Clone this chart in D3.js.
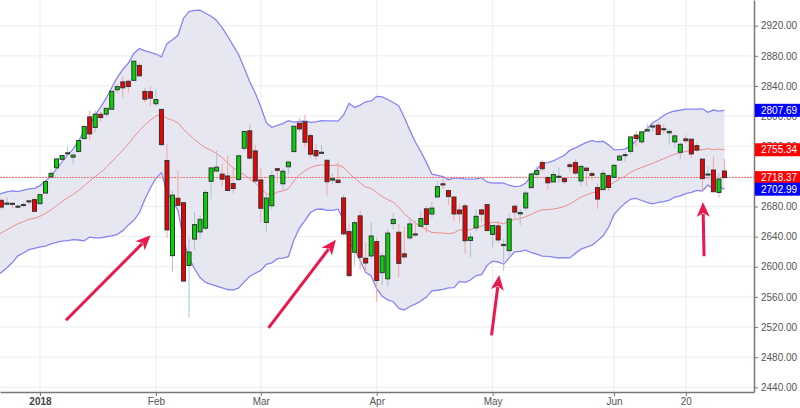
<!DOCTYPE html>
<html>
<head>
<script src="https://d3js.org/d3.v7.min.js"></script>
<style>
  body { margin: 0; background: #fff; font-family: 'Liberation Sans', Arial, sans-serif; }
  .axis text { font-size: 10px; fill: #555; }
  .axis path, .axis line { stroke: #777; }
  .axis path { stroke-width: 1.5px; }
  .grid line { stroke: #ececf2; stroke-width: 1px; }
</style>
</head>
<body>
<script>
// S&P 500 daily candles, Dec 19 2017 - Jun 29 2018
const dates = [
  "2017-12-19","2017-12-20","2017-12-21","2017-12-22","2017-12-26","2017-12-27","2017-12-28","2017-12-29",
  "2018-01-02","2018-01-03","2018-01-04","2018-01-05","2018-01-08","2018-01-09","2018-01-10","2018-01-11","2018-01-12","2018-01-16","2018-01-17","2018-01-18","2018-01-19","2018-01-22","2018-01-23","2018-01-24","2018-01-25","2018-01-26","2018-01-29","2018-01-30","2018-01-31",
  "2018-02-01","2018-02-02","2018-02-05","2018-02-06","2018-02-07","2018-02-08","2018-02-09","2018-02-12","2018-02-13","2018-02-14","2018-02-15","2018-02-16","2018-02-20","2018-02-21","2018-02-22","2018-02-23","2018-02-26","2018-02-27","2018-02-28",
  "2018-03-01","2018-03-02","2018-03-05","2018-03-06","2018-03-07","2018-03-08","2018-03-09","2018-03-12","2018-03-13","2018-03-14","2018-03-15","2018-03-16","2018-03-19","2018-03-20","2018-03-21","2018-03-22","2018-03-23","2018-03-26","2018-03-27","2018-03-28","2018-03-29",
  "2018-04-02","2018-04-03","2018-04-04","2018-04-05","2018-04-06","2018-04-09","2018-04-10","2018-04-11","2018-04-12","2018-04-13","2018-04-16","2018-04-17","2018-04-18","2018-04-19","2018-04-20","2018-04-23","2018-04-24","2018-04-25","2018-04-26","2018-04-27","2018-04-30",
  "2018-05-01","2018-05-02","2018-05-03","2018-05-04","2018-05-07","2018-05-08","2018-05-09","2018-05-10","2018-05-11","2018-05-14","2018-05-15","2018-05-16","2018-05-17","2018-05-18","2018-05-21","2018-05-22","2018-05-23","2018-05-24","2018-05-25","2018-05-29","2018-05-30","2018-05-31",
  "2018-06-01","2018-06-04","2018-06-05","2018-06-06","2018-06-07","2018-06-08","2018-06-11","2018-06-12","2018-06-13","2018-06-14","2018-06-15","2018-06-18","2018-06-19","2018-06-20","2018-06-21","2018-06-22","2018-06-25","2018-06-26","2018-06-27","2018-06-28","2018-06-29"
];

const open = [
  2694.96, 2688.18, 2683.02, 2684.22, 2679.09, 2682.10, 2686.10, 2689.15,
  2683.73, 2697.85, 2719.31, 2731.33, 2742.67, 2751.15, 2745.55, 2752.97, 2770.18, 2798.96, 2784.99, 2802.40, 2802.60, 2809.16, 2835.05, 2845.42, 2846.24, 2847.48, 2867.23, 2832.74, 2832.41,
  2816.45, 2808.92, 2741.06, 2614.78, 2690.95, 2685.01, 2601.78, 2636.75, 2646.27, 2651.21, 2713.46, 2727.14, 2722.99, 2720.53, 2710.42, 2715.80, 2757.37, 2780.45, 2753.78,
  2715.22, 2658.89, 2681.06, 2730.18, 2710.18, 2732.75, 2752.91, 2790.54, 2792.31, 2774.06, 2754.27, 2750.57, 2741.38, 2715.05, 2714.99, 2691.36, 2646.71, 2619.35, 2667.57, 2611.30, 2614.41,
  2633.45, 2592.17, 2584.04, 2657.36, 2645.82, 2617.18, 2638.41, 2643.56, 2653.83, 2676.90, 2670.10, 2692.74, 2710.11, 2701.16, 2692.56, 2675.40, 2680.80, 2634.92, 2651.65, 2675.47, 2682.51,
  2642.96, 2654.24, 2628.08, 2621.45, 2680.34, 2670.26, 2678.12, 2705.02, 2722.70, 2738.47, 2718.59, 2712.62, 2719.71, 2717.35, 2735.39, 2738.34, 2713.98, 2730.94, 2723.60, 2705.11, 2702.43, 2720.98,
  2718.70, 2741.67, 2748.46, 2753.25, 2774.84, 2765.84, 2780.18, 2785.60, 2787.94, 2783.21, 2777.78, 2765.79, 2752.01, 2769.73, 2769.28, 2760.79, 2742.94, 2722.12, 2728.45, 2698.69, 2727.13
];

const high = [
  2694.96, 2691.01, 2692.64, 2685.35, 2682.74, 2685.64, 2687.66, 2692.12,
  2695.89, 2714.37, 2729.29, 2743.45, 2748.51, 2759.14, 2750.80, 2767.56, 2787.85, 2807.54, 2807.04, 2805.83, 2810.33, 2833.03, 2842.24, 2852.97, 2848.56, 2872.87, 2870.62, 2837.75, 2839.26,
  2835.96, 2808.92, 2763.39, 2701.04, 2727.67, 2685.27, 2638.67, 2672.61, 2668.84, 2702.10, 2731.51, 2754.42, 2737.60, 2747.75, 2731.26, 2747.76, 2780.64, 2789.15, 2761.52,
  2730.89, 2696.25, 2728.09, 2732.08, 2730.60, 2740.45, 2786.57, 2796.98, 2801.90, 2777.11, 2763.03, 2761.85, 2741.38, 2724.22, 2739.14, 2695.68, 2657.67, 2661.36, 2674.78, 2632.65, 2659.07,
  2638.30, 2619.14, 2649.86, 2672.08, 2656.88, 2653.55, 2665.45, 2661.43, 2674.72, 2680.26, 2686.49, 2713.34, 2717.49, 2702.84, 2693.94, 2682.86, 2683.55, 2645.30, 2676.48, 2677.35, 2682.87,
  2655.27, 2660.87, 2637.14, 2670.93, 2683.35, 2676.34, 2701.27, 2726.11, 2732.86, 2742.10, 2718.59, 2727.76, 2731.96, 2719.50, 2739.19, 2742.24, 2733.33, 2731.97, 2727.36, 2710.67, 2729.34, 2722.50,
  2736.93, 2749.16, 2752.61, 2772.39, 2779.90, 2779.39, 2790.21, 2789.80, 2791.47, 2789.06, 2782.81, 2774.99, 2765.05, 2774.86, 2769.28, 2764.17, 2742.94, 2732.91, 2746.09, 2724.34, 2743.26
];

const low = [
  2680.61, 2676.11, 2682.40, 2678.13, 2677.96, 2678.91, 2682.69, 2673.61,
  2682.36, 2697.77, 2719.07, 2727.92, 2737.60, 2747.86, 2736.06, 2752.78, 2769.64, 2768.64, 2778.38, 2792.56, 2798.08, 2808.12, 2830.59, 2824.81, 2830.94, 2846.18, 2851.48, 2818.27, 2813.04,
  2812.70, 2759.97, 2638.17, 2593.07, 2681.33, 2580.56, 2532.69, 2622.45, 2637.08, 2648.87, 2689.82, 2725.11, 2706.76, 2701.29, 2697.77, 2713.74, 2753.78, 2742.10, 2713.54,
  2659.65, 2647.32, 2675.75, 2711.26, 2701.74, 2722.65, 2751.54, 2779.26, 2758.68, 2744.38, 2741.47, 2749.97, 2694.59, 2710.05, 2709.79, 2641.59, 2585.89, 2601.81, 2596.12, 2593.06, 2609.72,
  2553.80, 2575.49, 2573.61, 2649.58, 2586.27, 2610.79, 2635.78, 2639.25, 2653.83, 2645.05, 2665.16, 2692.05, 2703.63, 2681.90, 2660.61, 2657.99, 2617.32, 2612.67, 2647.16, 2659.01, 2648.04,
  2625.41, 2631.70, 2594.62, 2615.32, 2664.70, 2655.20, 2674.14, 2704.54, 2717.45, 2725.47, 2701.91, 2712.17, 2711.36, 2709.18, 2725.70, 2721.88, 2707.38, 2707.38, 2714.99, 2676.81, 2702.43, 2700.68,
  2718.70, 2740.54, 2739.51, 2748.46, 2760.16, 2763.59, 2780.17, 2778.78, 2774.65, 2776.52, 2761.73, 2757.12, 2743.19, 2763.91, 2744.39, 2752.68, 2698.67, 2715.60, 2698.67, 2691.99, 2718.03
];

const close = [
  2681.47, 2679.25, 2684.57, 2683.34, 2680.50, 2682.62, 2687.54, 2673.61,
  2695.81, 2713.06, 2723.99, 2743.15, 2747.71, 2751.29, 2748.23, 2767.56, 2786.24, 2776.42, 2802.56, 2798.03, 2810.30, 2832.97, 2839.13, 2837.54, 2839.25, 2872.87, 2853.53, 2822.43, 2823.81,
  2821.98, 2762.13, 2648.94, 2695.14, 2681.66, 2581.00, 2619.55, 2656.00, 2662.94, 2698.63, 2731.20, 2732.22, 2716.26, 2701.33, 2703.96, 2747.30, 2779.60, 2744.28, 2713.83,
  2677.67, 2691.25, 2720.94, 2728.12, 2726.80, 2738.97, 2786.57, 2783.02, 2765.31, 2749.48, 2747.33, 2752.01, 2712.92, 2716.94, 2711.93, 2643.69, 2588.26, 2658.55, 2612.62, 2605.00, 2640.87,
  2581.88, 2614.45, 2644.69, 2662.84, 2604.47, 2613.16, 2656.87, 2642.19, 2663.99, 2656.30, 2677.84, 2706.39, 2708.64, 2693.13, 2670.14, 2670.29, 2634.56, 2639.40, 2666.94, 2669.91, 2648.05,
  2654.80, 2635.67, 2629.73, 2663.42, 2672.63, 2671.92, 2697.79, 2723.07, 2727.72, 2730.13, 2711.45, 2722.46, 2720.13, 2712.97, 2733.01, 2724.44, 2733.29, 2727.76, 2721.33, 2689.86, 2724.01, 2705.27,
  2734.62, 2746.87, 2748.80, 2772.35, 2770.37, 2779.03, 2782.00, 2786.85, 2775.63, 2782.49, 2779.66, 2773.75, 2762.59, 2767.32, 2749.76, 2754.88, 2717.07, 2723.06, 2699.63, 2716.31, 2718.37
];

// closes Nov 20 - Dec 18 2017, only used to start the 20-day bands
const priorCloses = [
  2582.14, 2599.03, 2597.08, 2602.42, 2601.42, 2627.04, 2626.07, 2647.58, 2642.22, 2639.44,
  2629.57, 2629.27, 2636.98, 2651.50, 2659.99, 2664.11, 2662.85, 2652.01, 2675.81, 2690.16
];

const tickDates = ["2018-01-02", "2018-02-01", "2018-03-01", "2018-04-02", "2018-05-01", "2018-06-01", "2018-06-20"];
const tickLabels = ["2018", "Feb", "Mar", "Apr", "May", "Jun", "20"];
const priceTicks = [2440, 2480, 2520, 2560, 2600, 2640, 2680, 2720, 2760, 2800, 2840, 2880, 2920];

// annotation arrows: [from day, from price, to day, to price]
const arrows = [
  [12.7, 2529, 28.05, 2642],
  [49.4, 2519, 61.6, 2636],
  [89.8, 2509, 91.2, 2589],
  [128.3, 2614, 128.1, 2686]
];

const width = 800, height = 408;
const plotW = 754, plotH = 392;

const svg = d3.select('body').append('svg')
  .attr('width', width)
  .attr('height', height);

const x = d3.scaleLinear().domain([0.754, 137.35]).range([0, plotW]);
const y = d3.scaleLinear().domain([2433.8, 2954.1]).range([plotH, 0]);

// 20-day bollinger bands, 2 sd
const allCloses = priorCloses.concat(close);
const k = priorCloses.length;
const bands = close.map((c, i) => {
  const w = allCloses.slice(i + k - 19, i + k + 1);
  const m = d3.mean(w);
  const sd = Math.sqrt(d3.mean(w, v => (v - m) ** 2));
  return { i, mid: m, up: m + 2 * sd, lo: m - 2 * sd };
});

const candles = dates.map((d, i) => ({ i, o: open[i], h: high[i], l: low[i], c: close[i] }));
const tickIdx = tickDates.map(d => dates.indexOf(d));

svg.append('defs').append('clipPath').attr('id', 'plot')
  .append('rect').attr('width', plotW).attr('height', plotH);

// grid
const grid = svg.append('g').attr('class', 'grid');
grid.selectAll('.h').data(priceTicks).join('line')
  .attr('x1', 0).attr('x2', plotW)
  .attr('y1', d => y(d)).attr('y2', d => y(d));
grid.selectAll('.v').data(tickIdx).join('line')
  .attr('x1', d => x(d)).attr('x2', d => x(d))
  .attr('y1', 0).attr('y2', plotH);

const plot = svg.append('g').attr('clip-path', 'url(#plot)');

plot.append('path').datum(bands)
  .attr('fill', '#e3e3ee')
  .attr('fill-opacity', 0.85)
  .attr('d', d3.area().x(d => x(d.i)).y0(d => y(d.lo)).y1(d => y(d.up)));

['up', 'lo'].forEach(key => {
  plot.append('path').datum(bands)
    .attr('fill', 'none')
    .attr('stroke', '#8585f2')
    .attr('stroke-width', 1.3)
    .attr('d', d3.line().x(d => x(d.i)).y(d => y(d[key])));
});

plot.append('path').datum(bands)
  .attr('fill', 'none')
  .attr('stroke', '#ee8c8c')
  .attr('stroke-width', 1)
  .attr('d', d3.line().x(d => x(d.i)).y(d => y(d.mid)));

// last close line
const lastClose = close[close.length - 1];
plot.append('line')
  .attr('x1', 0).attr('x2', plotW)
  .attr('y1', y(lastClose)).attr('y2', y(lastClose))
  .attr('stroke', '#ff7070')
  .attr('stroke-width', 1)
  .attr('stroke-dasharray', '2,1')
  .attr('shape-rendering', 'crispEdges');

// candles
const cg = plot.selectAll('g.candle').data(candles).join('g').attr('class', 'candle');
cg.append('line')
  .attr('x1', d => x(d.i)).attr('x2', d => x(d.i))
  .attr('y1', d => y(d.h)).attr('y2', d => y(d.l))
  .attr('stroke', d => d.c >= d.o ? '#a9c3d3' : '#f6a4a4')
  .attr('stroke-width', 1);
cg.append('rect')
  .attr('x', d => x(d.i) - 2)
  .attr('width', 4)
  .attr('y', d => y(Math.max(d.o, d.c)))
  .attr('height', d => Math.max(1, y(Math.min(d.o, d.c)) - y(Math.max(d.o, d.c))))
  .attr('fill', d => d.c >= d.o ? '#00d600' : '#ee0000')
  .attr('stroke', '#333')
  .attr('stroke-width', 1);

// arrows
const ag = svg.append('g');
arrows.forEach(([i1, p1, i2, p2]) => {
  const x1 = x(i1), y1 = y(p1), x2 = x(i2), y2 = y(p2);
  const a = Math.atan2(y2 - y1, x2 - x1), L = 15, W = 6.5;
  const bx = x2 - L * Math.cos(a), by = y2 - L * Math.sin(a);
  const px = -Math.sin(a) * W, py = Math.cos(a) * W;
  ag.append('line')
    .attr('x1', x1).attr('y1', y1).attr('x2', bx + 3 * Math.cos(a)).attr('y2', by + 3 * Math.sin(a))
    .attr('stroke', '#e8194c').attr('stroke-width', 3);
  ag.append('path')
    .attr('d', `M${x2},${y2}L${bx + px},${by + py}L${bx + 4 * Math.cos(a)},${by + 4 * Math.sin(a)}L${bx - px},${by - py}Z`)
    .attr('fill', '#e8194c');
});

// axes
const xAxis = svg.append('g').attr('class', 'axis')
  .attr('transform', `translate(0,${plotH})`)
  .call(d3.axisBottom(x).tickValues(tickIdx).tickFormat((d, i) => tickLabels[i]).tickSize(4).tickSizeOuter(0).tickPadding(2));
xAxis.selectAll('text').filter((d, i) => i === 0)
  .style('font-weight', 'bold').style('fill', '#444');

svg.append('g').attr('class', 'axis')
  .attr('transform', `translate(${plotW},0)`)
  .call(d3.axisRight(y).tickValues(priceTicks).tickFormat(d3.format('.2f')).tickSize(4).tickSizeOuter(0).tickPadding(3));

// price tags on the right axis
const last = bands[bands.length - 1];
const tags = [
  { v: last.up, color: '#0000ff' },
  { v: last.mid, color: '#ff0000' },
  { v: lastClose, color: '#ff0000' },
  { v: last.lo, color: '#0000ff' }
];
const tg = svg.selectAll('g.tag').data(tags).join('g').attr('class', 'tag')
  .attr('transform', d => `translate(${plotW + 1},${y(d.v)})`);
tg.append('rect')
  .attr('x', 0).attr('y', -6.5)
  .attr('width', width - plotW).attr('height', 13)
  .attr('fill', d => d.color);
tg.append('text')
  .attr('x', 6).attr('dy', '0.35em')
  .attr('fill', '#fff')
  .style('font-size', '10px')
  .text(d => d3.format('.2f')(d.v));
</script>
</body>
</html>
